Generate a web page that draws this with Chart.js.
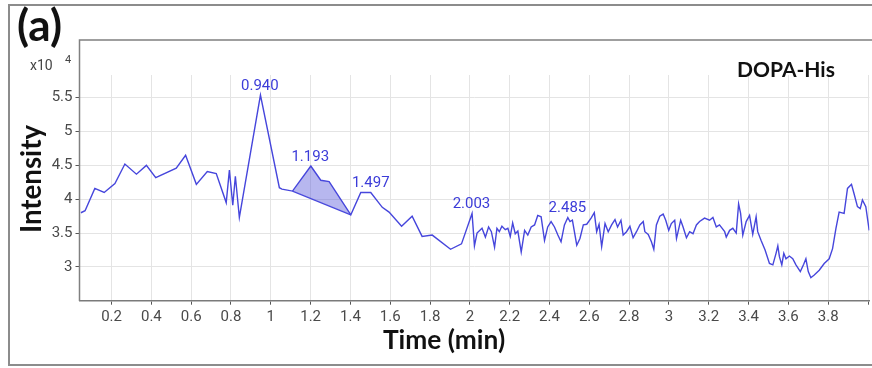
<!DOCTYPE html>
<html>
<head>
<meta charset="utf-8">
<script src="https://cdn.jsdelivr.net/npm/chart.js@4.4.1/dist/chart.umd.min.js"></script>
<style>
  html, body { margin: 0; padding: 0; background: #fff; }
</style>
</head>
<body>
<canvas id="chart" width="872" height="368"></canvas>
<script>
// retention time (min)
const times = [
  0.046, 0.067, 0.116, 0.163, 0.217, 0.267, 0.325, 0.375, 0.422, 0.525,
  0.572, 0.626, 0.681, 0.726, 0.776, 0.792, 0.809, 0.822, 0.842, 0.948,
  1.043, 1.056, 1.109, 1.201, 1.251, 1.293, 1.402, 1.452, 1.502, 1.560,
  1.594, 1.657, 1.710, 1.760, 1.811, 1.903, 1.958, 2.011, 2.023, 2.036,
  2.061, 2.078, 2.094, 2.108, 2.124, 2.136, 2.148, 2.161, 2.178, 2.191,
  2.203, 2.215, 2.228, 2.241, 2.258, 2.275, 2.291, 2.308, 2.325, 2.341,
  2.358, 2.375, 2.391, 2.408, 2.425, 2.442, 2.458, 2.475, 2.492, 2.503,
  2.515, 2.537, 2.553, 2.570, 2.587, 2.609, 2.625, 2.637, 2.649, 2.662,
  2.679, 2.695, 2.712, 2.729, 2.742, 2.759, 2.770, 2.787, 2.804, 2.820,
  2.837, 2.854, 2.871, 2.879, 2.896, 2.912, 2.924, 2.937, 2.954, 2.971,
  2.984, 2.999, 3.012, 3.029, 3.038,
  3.046, 3.059, 3.071, 3.088, 3.104, 3.121, 3.138, 3.154, 3.179, 3.204,
  3.221, 3.238, 3.254, 3.280, 3.288, 3.305, 3.321, 3.338, 3.350, 3.360,
  3.371, 3.388, 3.405, 3.421, 3.438, 3.446, 3.463, 3.483, 3.505, 3.522,
  3.538, 3.547, 3.555, 3.567, 3.577, 3.588, 3.605, 3.622, 3.638, 3.660,
  3.677, 3.688, 3.700, 3.713, 3.730, 3.755, 3.780, 3.805, 3.822, 3.839,
  3.855, 3.880, 3.897, 3.917, 3.930, 3.947, 3.961, 3.972, 3.989, 4.006
];

// intensity (x10^4)
const intensity = [
  3.80, 3.83, 4.16, 4.10, 4.23, 4.52, 4.37, 4.50, 4.32, 4.46,
  4.65, 4.22, 4.41, 4.38, 3.95, 4.43, 3.91, 4.34, 3.73, 5.54,
  4.17, 4.15, 4.12, 4.49, 4.28, 4.26, 3.77, 4.10, 4.10, 3.88,
  3.81, 3.60, 3.75, 3.45, 3.47, 3.26, 3.34, 3.79, 3.31, 3.50,
  3.57, 3.44, 3.59, 3.52, 3.29, 3.57, 3.52, 3.60, 3.55, 3.57,
  3.45, 3.65, 3.49, 3.53, 3.22, 3.54, 3.47, 3.59, 3.62, 3.76,
  3.74, 3.39, 3.59, 3.67, 3.59, 3.47, 3.37, 3.62, 3.73, 3.67,
  3.69, 3.32, 3.42, 3.62, 3.63, 3.72, 3.80, 3.52, 3.63, 3.30,
  3.64, 3.52, 3.62, 3.70, 3.59, 3.69, 3.47, 3.52, 3.60, 3.43,
  3.52, 3.62, 3.67, 3.52, 3.48, 3.37, 3.26, 3.62, 3.75, 3.78,
  3.69, 3.54, 3.64, 3.69, 3.42,
  3.52, 3.69, 3.59, 3.43, 3.52, 3.49, 3.62, 3.67, 3.72, 3.69,
  3.73, 3.59, 3.62, 3.52, 3.44, 3.54, 3.57, 3.50, 3.93, 3.79,
  3.47, 3.67, 3.76, 3.48, 3.74, 3.52, 3.39, 3.25, 3.05, 3.03,
  3.20, 3.31, 3.15, 3.03, 3.20, 3.12, 3.16, 3.12, 3.03, 2.93,
  3.04, 3.12, 2.93, 2.84, 2.88, 2.95, 3.05, 3.12, 3.27, 3.57,
  3.81, 3.79, 4.16, 4.22, 4.08, 3.89, 3.86, 3.99, 3.89, 3.54
];

// labelled peaks
const peakTimes = [0.940, 1.193, 1.497, 2.003, 2.485];
const peakLabels = ['0.940', '1.193', '1.497', '2.003', '2.485'];

// integrated peak (shaded), start and end time
const areaRange = [1.109, 1.402];

const xTicksStep = 0.2;
const yTicks = [3, 3.5, 4, 4.5, 5, 5.5];

const lineColor = '#4646dc';
const points = times.map((t, i) => ({ x: t, y: intensity[i] }));
const areaPoints = points.filter(p => p.x >= areaRange[0] && p.x <= areaRange[1]);
const basePoints = [areaPoints[0], areaPoints[areaPoints.length - 1]];

function fitFont(ctx, text, width, weight, family) {
  ctx.font = weight + ' 20px ' + family;
  const size = 20 * width / ctx.measureText(text).width;
  ctx.font = weight + ' ' + size.toFixed(1) + 'px ' + family;
}

const decor = {
  id: 'decor',
  afterDraw(chart) {
    const c = chart.ctx;
    const xs = chart.scales.x, ys = chart.scales.y;
    c.save();
    // outer frame
    c.strokeStyle = '#8c8c8c';
    c.lineWidth = 2;
    c.strokeRect(9, 5, 900, 360);
    // plot frame (left + top)
    c.strokeStyle = '#808080';
    c.lineWidth = 1.5;
    c.beginPath();
    c.moveTo(79.5, 301);
    c.lineTo(79.5, 40);
    c.lineTo(880, 40);
    c.stroke();

    c.fillStyle = '#111';
    c.textBaseline = 'alphabetic';
    c.textAlign = 'left';
    fitFont(c, '(a)', 45, 'bold', 'Lato');
    c.fillText('(a)', 17, 41);
    fitFont(c, 'DOPA-His', 98, 'bold', 'Lato');
    c.fillText('DOPA-His', 737, 77);
    c.textAlign = 'center';
    fitFont(c, 'Time (min)', 122, 'bold', 'Lato');
    c.fillText('Time (min)', 444, 349);
    c.save();
    c.translate(41, 179);
    c.rotate(-Math.PI / 2);
    fitFont(c, 'Intensity', 108, 'bold', 'Lato');
    c.fillText('Intensity', 0, 0);
    c.restore();

    // exponent
    c.fillStyle = '#444';
    c.textAlign = 'left';
    c.font = '14px Roboto';
    c.fillText('x10', 30, 70);
    c.font = '11px Roboto';
    c.fillText('4', 65, 63);

    // peak labels
    c.fillStyle = '#3c3cd8';
    c.font = '15px Roboto';
    c.textAlign = 'center';
    peakTimes.forEach((t, i) => {
      const near = points.filter(p => Math.abs(p.x - t) < 0.016);
      const top = Math.max(...near.map(p => p.y));
      c.fillText(peakLabels[i], xs.getPixelForValue(t) + 1, ys.getPixelForValue(top) - 5);
    });
    c.restore();
  }
};

new Chart(document.getElementById('chart'), {
  type: 'line',
  data: {
    datasets: [
      { data: points, borderColor: lineColor, borderWidth: 1.4, pointRadius: 0, tension: 0, fill: false },
      { data: areaPoints, borderWidth: 0, pointRadius: 0, tension: 0, fill: '+1', backgroundColor: 'rgba(95, 95, 220, 0.45)' },
      { data: basePoints, borderColor: lineColor, borderWidth: 1.4, pointRadius: 0, fill: false }
    ]
  },
  options: {
    responsive: false,
    animation: false,
    events: [],
    layout: { padding: { top: 75, left: 0, right: 0, bottom: 0 } },
    plugins: { legend: { display: false }, tooltip: { enabled: false } },
    scales: {
      x: {
        type: 'linear',
        min: 0.039,
        max: 4.007,
        afterFit: s => { s.height = 67.3; },
        border: { color: '#7a7a7a', width: 1.5 },
        grid: { color: '#e4e4e4', tickColor: '#555', tickLength: 4 },
        ticks: {
          stepSize: xTicksStep,
          includeBounds: false,
          autoSkip: false,
          maxRotation: 0,
          padding: 4,
          color: '#4a4a4a',
          font: { family: 'Roboto', size: 15 },
          callback: v => v > 3.95 ? '' : String(Math.round(v * 10) / 10)
        }
      },
      y: {
        min: 2.5,
        max: 5.836,
        afterFit: s => { s.width = 79.5; },
        afterBuildTicks: s => { s.ticks = yTicks.map(v => ({ value: v })); },
        border: { display: false },
        grid: { color: '#e4e4e4', tickColor: '#555', tickLength: 4 },
        ticks: {
          padding: 3,
          color: '#4a4a4a',
          font: { family: 'Roboto', size: 15 },
          callback: v => String(v)
        }
      }
    }
  },
  plugins: [decor]
});
</script>
</body>
</html>
